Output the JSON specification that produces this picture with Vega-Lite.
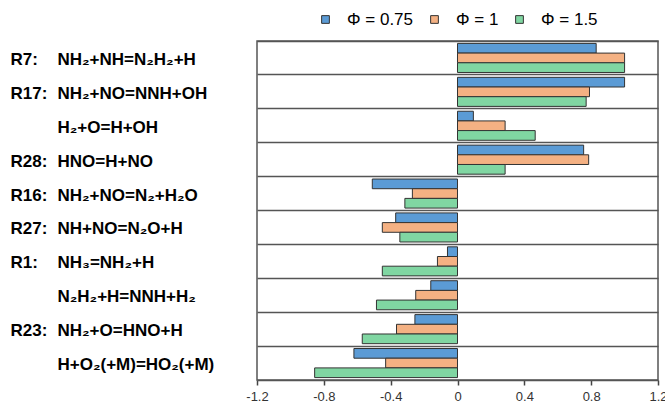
{
  "$schema": "https://vega.github.io/schema/vega-lite/v6.json",
  "width": 401,
  "height": 339,
  "autosize": {"type": "none"},
  "padding": {"left": 257, "top": 41, "right": 7, "bottom": 28},
  "background": "white",
  "config": {
    "view": {"stroke": "#555", "strokeWidth": 1.5},
    "font": "Liberation Sans"
  },
  "data": {
    "values": [
      {"rxn": "R7:|NH₂+NH=N₂H₂+H", "phi": "Φ = 0.75", "v": 0.83},
      {"rxn": "R7:|NH₂+NH=N₂H₂+H", "phi": "Φ = 1", "v": 1.0},
      {"rxn": "R7:|NH₂+NH=N₂H₂+H", "phi": "Φ = 1.5", "v": 1.0},
      {"rxn": "R17:|NH₂+NO=NNH+OH", "phi": "Φ = 0.75", "v": 1.0},
      {"rxn": "R17:|NH₂+NO=NNH+OH", "phi": "Φ = 1", "v": 0.79},
      {"rxn": "R17:|NH₂+NO=NNH+OH", "phi": "Φ = 1.5", "v": 0.77},
      {"rxn": "|H₂+O=H+OH", "phi": "Φ = 0.75", "v": 0.095},
      {"rxn": "|H₂+O=H+OH", "phi": "Φ = 1", "v": 0.285},
      {"rxn": "|H₂+O=H+OH", "phi": "Φ = 1.5", "v": 0.465},
      {"rxn": "R28:|HNO=H+NO", "phi": "Φ = 0.75", "v": 0.755},
      {"rxn": "R28:|HNO=H+NO", "phi": "Φ = 1", "v": 0.785},
      {"rxn": "R28:|HNO=H+NO", "phi": "Φ = 1.5", "v": 0.285},
      {"rxn": "R16:|NH₂+NO=N₂+H₂O", "phi": "Φ = 0.75", "v": -0.51},
      {"rxn": "R16:|NH₂+NO=N₂+H₂O", "phi": "Φ = 1", "v": -0.27},
      {"rxn": "R16:|NH₂+NO=N₂+H₂O", "phi": "Φ = 1.5", "v": -0.315},
      {"rxn": "R27:|NH+NO=N₂O+H", "phi": "Φ = 0.75", "v": -0.37},
      {"rxn": "R27:|NH+NO=N₂O+H", "phi": "Φ = 1", "v": -0.45},
      {"rxn": "R27:|NH+NO=N₂O+H", "phi": "Φ = 1.5", "v": -0.345},
      {"rxn": "R1:|NH₃=NH₂+H", "phi": "Φ = 0.75", "v": -0.06},
      {"rxn": "R1:|NH₃=NH₂+H", "phi": "Φ = 1", "v": -0.12},
      {"rxn": "R1:|NH₃=NH₂+H", "phi": "Φ = 1.5", "v": -0.45},
      {"rxn": "|N₂H₂+H=NNH+H₂", "phi": "Φ = 0.75", "v": -0.16},
      {"rxn": "|N₂H₂+H=NNH+H₂", "phi": "Φ = 1", "v": -0.25},
      {"rxn": "|N₂H₂+H=NNH+H₂", "phi": "Φ = 1.5", "v": -0.485},
      {"rxn": "R23:|NH₂+O=HNO+H", "phi": "Φ = 0.75", "v": -0.255},
      {"rxn": "R23:|NH₂+O=HNO+H", "phi": "Φ = 1", "v": -0.365},
      {"rxn": "R23:|NH₂+O=HNO+H", "phi": "Φ = 1.5", "v": -0.57},
      {"rxn": "|H+O₂(+M)=HO₂(+M)", "phi": "Φ = 0.75", "v": -0.62},
      {"rxn": "|H+O₂(+M)=HO₂(+M)", "phi": "Φ = 1", "v": -0.43},
      {"rxn": "|H+O₂(+M)=HO₂(+M)", "phi": "Φ = 1.5", "v": -0.855}
    ]
  },
  "layer": [
    {
      "mark": {"type": "bar", "opacity": 0},
      "encoding": {
        "y": {
          "field": "rxn", "type": "nominal", "sort": null,
          "scale": {"paddingInner": 0, "paddingOuter": 0},
          "axis": {"orient": "left", "bandPosition": 0, "grid": true, "gridColor": "#555", "gridWidth": 1.5, "gridOpacity": 1, "labels": false, "ticks": false, "domain": false, "title": null}
        },
        "x": {
          "field": "v", "type": "quantitative",
          "scale": {"domain": [-1.2, 1.2], "nice": false, "zero": false},
          "axis": {
            "orient": "bottom", "values": [-1.2, -0.8, -0.4, 0, 0.4, 0.8, 1.2],
            "labelExpr": "datum.value == 0 ? '0' : (datum.value < 0 ? '-' : '') + format(abs(datum.value), '.1f')",
            "labelFlush": false, "labelOverlap": false, "labelFont": "Liberation Sans", "labelFontSize": 13, "labelColor": "#333", "labelPadding": 5,
            "grid": false, "ticks": true, "tickSize": 5, "tickColor": "#444", "tickWidth": 1.5,
            "domain": true, "domainColor": "#555", "domainWidth": 1.5, "title": null
          }
        }
      }
    },
    {
      "mark": {"type": "bar", "opacity": 0},
      "encoding": {
        "y": {
          "field": "rxn", "type": "nominal", "sort": null,
          "axis": {"orient": "left", "labelExpr": "split(datum.value, '|')[0]", "labelAlign": "left", "labelPadding": 247, "labelFont": "Liberation Sans", "labelFontWeight": "bold", "labelFontSize": 17, "labelColor": "#000", "labelBaseline": "middle", "labelOffset": 2, "ticks": false, "domain": false, "grid": false, "title": null}
        },
        "x": {"field": "v", "type": "quantitative"}
      }
    },
    {
      "mark": {"type": "bar", "stroke": "#333", "strokeWidth": 1},
      "encoding": {
        "y": {
          "field": "rxn", "type": "nominal", "sort": null,
          "axis": {"orient": "left", "labelExpr": "split(datum.value, '|')[1]", "labelAlign": "left", "labelPadding": 200, "labelFont": "Liberation Sans", "labelFontWeight": "bold", "labelFontSize": 17, "labelColor": "#000", "labelBaseline": "middle", "labelOffset": 2, "labelLimit": 0, "ticks": false, "domain": false, "grid": false, "title": null}
        },
        "yOffset": {
          "field": "phi", "type": "nominal", "sort": ["Φ = 0.75", "Φ = 1", "Φ = 1.5"],
          "scale": {"paddingInner": 0, "paddingOuter": 0.25}
        },
        "x": {"field": "v", "type": "quantitative"},
        "color": {
          "field": "phi", "type": "nominal",
          "scale": {"domain": ["Φ = 0.75", "Φ = 1", "Φ = 1.5"], "range": ["#5B9BD5", "#F4B183", "#80D6A2"]},
          "legend": {
            "orient": "none", "legendX": 60, "legendY": -30, "direction": "horizontal", "title": null, "gridAlign": "none",
            "symbolType": "square", "symbolSize": 60, "symbolStrokeColor": "#333", "symbolStrokeWidth": 1, "symbolOpacity": 1,
            "labelFont": "Liberation Sans", "labelFontSize": 17, "labelColor": "#000", "labelOffset": 13, "columnPadding": 12, "padding": 0
          }
        }
      }
    }
  ],
  "resolve": {"axis": {"y": "independent"}}
}
